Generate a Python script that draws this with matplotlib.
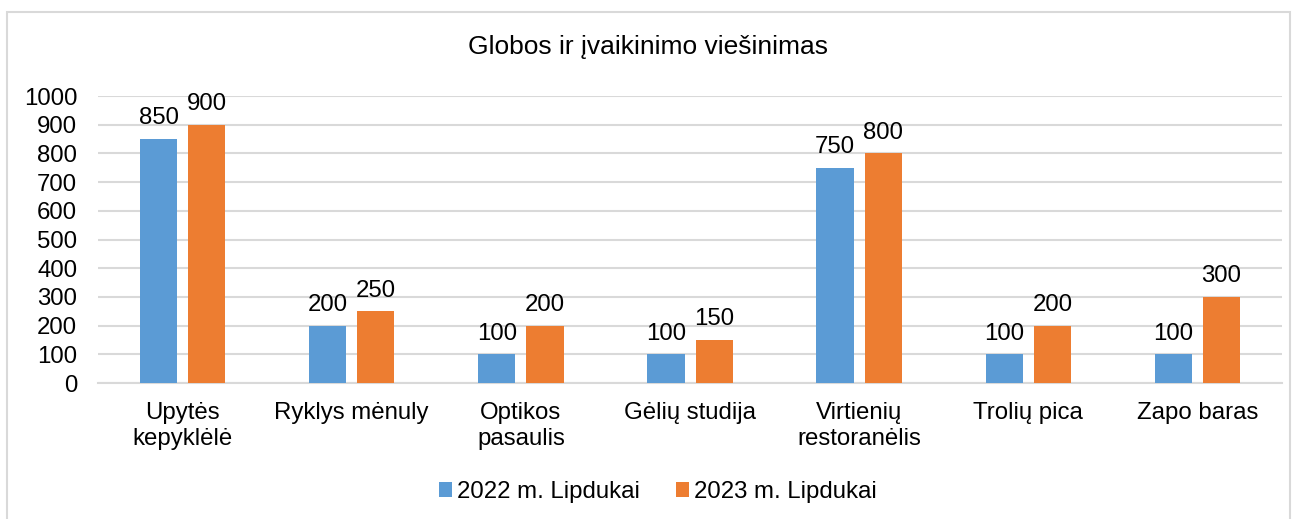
import numpy as np
import matplotlib.pyplot as plt
from matplotlib.patches import Rectangle

plt.rcParams['font.family'] = ['Liberation Sans', 'DejaVu Sans']

categories = ['Upytės\nkepyklėlė', 'Ryklys mėnuly', 'Optikos\npasaulis', 'Gėlių studija',
              'Virtienių\nrestoranėlis', 'Trolių pica', 'Zapo baras']
vals_2022 = [850, 200, 100, 100, 750, 100, 100]
vals_2023 = [900, 250, 200, 150, 800, 200, 300]
series_names = ['2022 m. Lipdukai', '2023 m. Lipdukai']
colors = ['#5B9BD5', '#ED7D31']

fs = 17.3

fig = plt.figure(figsize=(12.97, 5.19), dpi=100)
ax = fig.add_axes([0.0756, 0.262, 0.9128, 0.553])

x = np.arange(len(categories))
w = 0.22
off = 0.1425
b1 = ax.bar(x - off, vals_2022, w, color=colors[0], label=series_names[0], zorder=3)
b2 = ax.bar(x + off, vals_2023, w, color=colors[1], label=series_names[1], zorder=3)
for bars in (b1, b2):
    ax.bar_label(bars, padding=7, fontsize=fs)

ax.set_xlim(-0.5, len(categories) - 0.5)
ax.set_ylim(0, 1000)
ax.set_yticks(range(0, 1001, 100))
ax.set_xticks(x)
ax.set_xticklabels(categories, fontsize=fs, linespacing=1.2)
ax.tick_params(axis='y', labelsize=fs, length=0, pad=15)
ax.tick_params(axis='x', length=0, pad=14)
ax.grid(axis='y', color='#d9d9d9', linewidth=1.5, zorder=0)
for s in ['top', 'right', 'left']:
    ax.spines[s].set_visible(False)
ax.spines['bottom'].set_color('#d9d9d9')
ax.spines['bottom'].set_linewidth(1.5)

fig.text(0.5, 0.909, 'Globos ir įvaikinimo viešinimas', ha='center', va='center', fontsize=19)

fig.legend(loc='center', bbox_to_anchor=(0.507, 0.052), ncol=2, frameon=False, fontsize=fs,
           handlelength=0.55, handleheight=0.55, handletextpad=0.2, columnspacing=1.5)

fig.patches.append(Rectangle((7 / 1297, -0.05), (1290 - 7) / 1297, 1 - 12 / 519 + 0.05,
                             transform=fig.transFigure, fill=False, edgecolor='#d9d9d9', linewidth=1.5))

fig.savefig('out.png', dpi=100)
